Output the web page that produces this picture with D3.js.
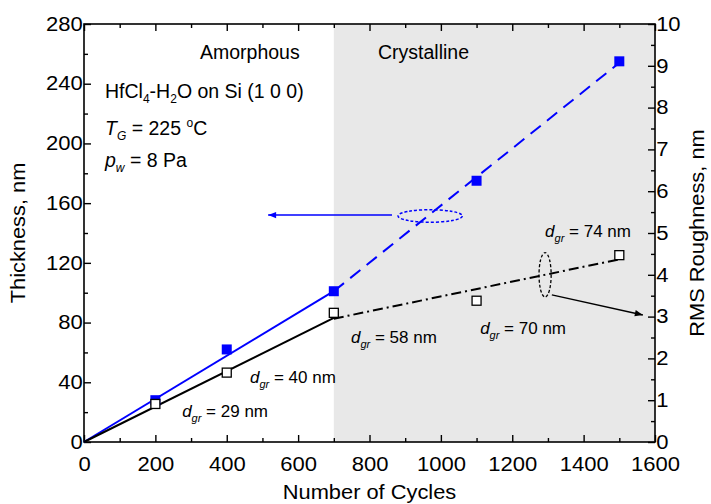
<!DOCTYPE html>
<html>
<head>
<meta charset="utf-8">
<script src="https://cdn.jsdelivr.net/npm/d3@7/dist/d3.min.js"></script>
<style>
  body { margin: 0; background: #fff; }
  svg { font-family: 'Liberation Sans', Arial, sans-serif; }
</style>
</head>
<body>
<div id="chart"></div>
<script>
// data
const cycles = [200, 400, 700, 1100, 1500];
const thickness = [28, 62, 101, 175, 255];      // nm, left axis
const roughness = [0.91, 1.66, 3.09, 3.38, 4.47]; // nm, right axis

// fit lines (cycles, value)
const thickFitAmorphous = [[0, 0], [700, 101]];
const thickFitCrystal = [[700, 101], [1500, 254]];
const roughFitAmorphous = [[0, 0], [700, 2.97]];
const roughFitCrystal = [[700, 2.95], [1500, 4.37]];

const xTicks = [0, 200, 400, 600, 800, 1000, 1200, 1400, 1600];
const yTicksLeft = [0, 40, 80, 120, 160, 200, 240, 280];
const yTicksRight = [0, 1, 2, 3, 4, 5, 6, 7, 8, 9, 10];
const crystalStart = 700;

const width = 711, height = 504;
const margin = {top: 24, right: 56, bottom: 62, left: 84};

const svg = d3.select('#chart').append('svg')
  .attr('width', width)
  .attr('height', height);

const x = d3.scaleLinear().domain([0, 1600]).range([margin.left, width - margin.right]);
const yL = d3.scaleLinear().domain([0, 280]).range([height - margin.bottom, margin.top]);
const yR = d3.scaleLinear().domain([0, 10]).range([height - margin.bottom, margin.top]);

const blue = '#0000ff';

//arrow markers
const defs = svg.append('defs');
const addMarker = (id, color) => {
  defs.append('marker')
    .attr('id', id)
    .attr('viewBox', '0 0 10 10')
    .attr('refX', 10).attr('refY', 5)
    .attr('markerWidth', 14).attr('markerHeight', 8)
    .attr('markerUnits', 'userSpaceOnUse')
    .attr('orient', 'auto')
    .append('path')
    .attr('d', 'M0,1 L10,5 L0,9 Z')
    .style('fill', color);
}
addMarker('arrBlue', blue);
addMarker('arrBlack', '#000');

// crystalline shading
svg.append('rect')
  .attr('x', x(crystalStart))
  .attr('y', yL(280))
  .attr('width', x(1600) - x(crystalStart))
  .attr('height', yL(0) - yL(280))
  .style('fill', '#e8e8e8');

// axes
const styleAxis = (g, scaleX) => {
  g.select('.domain').remove();
  g.selectAll('line').style('stroke', '#000').style('stroke-width', 1.4);
  g.selectAll('text')
    .style('font-size', '19.5px')
    .style('fill', '#000')
    .attr('transform', `scale(${scaleX},1)`);
}

const bottomAxis = svg.append('g').attr('transform', `translate(0,${yL(0)})`)
  .call(d3.axisBottom(x).tickValues(xTicks).tickSize(-7).tickPadding(15).tickFormat(d3.format('d')));
styleAxis(bottomAxis, 1.13);
svg.append('g').attr('transform', `translate(0,${yL(0)})`)
  .call(d3.axisBottom(x).tickValues(d3.range(100, 1600, 200)).tickSize(-4).tickFormat(''))
  .call(g => styleAxis(g, 1));

const topAxis = svg.append('g').attr('transform', `translate(0,${yL(280)})`)
  .call(d3.axisTop(x).tickValues(xTicks).tickSize(-7).tickFormat(''));
styleAxis(topAxis, 1);
svg.append('g').attr('transform', `translate(0,${yL(280)})`)
  .call(d3.axisTop(x).tickValues(d3.range(100, 1600, 200)).tickSize(-4).tickFormat(''))
  .call(g => styleAxis(g, 1));

const leftAxis = svg.append('g').attr('transform', `translate(${x(0)},0)`)
  .call(d3.axisLeft(yL).tickValues(yTicksLeft).tickSize(-7).tickPadding(1));
styleAxis(leftAxis, 1.13);
svg.append('g').attr('transform', `translate(${x(0)},0)`)
  .call(d3.axisLeft(yL).tickValues(d3.range(20, 280, 40)).tickSize(-4).tickFormat(''))
  .call(g => styleAxis(g, 1));

const rightAxis = svg.append('g').attr('transform', `translate(${x(1600)},0)`)
  .call(d3.axisRight(yR).tickValues(yTicksRight).tickSize(-7).tickPadding(1));
styleAxis(rightAxis, 1.13);
svg.append('g').attr('transform', `translate(${x(1600)},0)`)
  .call(d3.axisRight(yR).tickValues(d3.range(0.5, 10, 1)).tickSize(-4).tickFormat(''))
  .call(g => styleAxis(g, 1));

// frame
svg.append('rect')
  .attr('x', x(0)).attr('y', yL(280))
  .attr('width', x(1600) - x(0)).attr('height', yL(0) - yL(280))
  .style('fill', 'none').style('stroke', '#000').style('stroke-width', 1.6);

// axis titles
svg.append('text')
  .attr('transform', `translate(${(x(0) + x(1600)) / 2},499) scale(1.12,1)`)
  .attr('text-anchor', 'middle')
  .style('font-size', '19.5px')
  .text('Number of Cycles');

svg.append('text')
  .attr('transform', `translate(25,${(yL(0) + yL(280)) / 2}) rotate(-90) scale(1.12,1)`)
  .attr('text-anchor', 'middle')
  .style('font-size', '19.5px')
  .text('Thickness, nm');

svg.append('text')
  .attr('transform', `translate(704,${(yL(0) + yL(280)) / 2}) rotate(-90) scale(1.12,1)`)
  .attr('text-anchor', 'middle')
  .style('font-size', '19.5px')
  .text('RMS Roughness, nm');

// fit lines
const lineL = d3.line().x(d => x(d[0])).y(d => yL(d[1]));
const lineR = d3.line().x(d => x(d[0])).y(d => yR(d[1]));

svg.append('path').attr('d', lineL(thickFitAmorphous))
  .style('fill', 'none').style('stroke', blue).style('stroke-width', 2);
svg.append('path').attr('d', lineL(thickFitCrystal))
  .style('fill', 'none').style('stroke', blue).style('stroke-width', 2)
  .style('stroke-dasharray', '13,8');
svg.append('path').attr('d', lineR(roughFitAmorphous))
  .style('fill', 'none').style('stroke', '#000').style('stroke-width', 2);
svg.append('path').attr('d', lineR(roughFitCrystal))
  .style('fill', 'none').style('stroke', '#000').style('stroke-width', 2)
  .style('stroke-dasharray', '10,4,2,4');

// markers
const sq = 10;
svg.append('g').selectAll('rect')
  .data(cycles.map((c, i) => ({c, v: thickness[i]})))
  .join('rect')
  .attr('x', d => x(d.c) - sq / 2)
  .attr('y', d => yL(d.v) - sq / 2)
  .attr('width', sq).attr('height', sq)
  .style('fill', blue);

svg.append('g').selectAll('rect')
  .data(cycles.map((c, i) => ({c, v: roughness[i]})))
  .join('rect')
  .attr('x', d => x(d.c) - sq / 2 + 0.5)
  .attr('y', d => yR(d.v) - sq / 2 + 0.5)
  .attr('width', sq - 1).attr('height', sq - 1)
  .style('fill', '#fff')
  .style('stroke', '#000')
  .style('stroke-width', 1.3);

// ellipses and arrows pointing at axes
svg.append('ellipse')
  .attr('cx', x(970)).attr('cy', yL(151.4))
  .attr('rx', x(90) - x(0)).attr('ry', yL(0) - yL(4.2))
  .style('fill', 'none').style('stroke', blue).style('stroke-width', 1.5)
  .style('stroke-dasharray', '3,2');
svg.append('line')
  .attr('x1', x(863)).attr('y1', yL(152))
  .attr('x2', x(516)).attr('y2', yL(152))
  .attr('marker-end', 'url(#arrBlue)')
  .style('stroke', blue).style('stroke-width', 1.5);

svg.append('ellipse')
  .attr('cx', x(1292)).attr('cy', yR(4.0))
  .attr('rx', x(17) - x(0)).attr('ry', yR(0) - yR(0.53))
  .style('fill', 'none').style('stroke', '#000').style('stroke-width', 1.3)
  .style('stroke-dasharray', '3,2');
svg.append('line')
  .attr('x1', x(1311)).attr('y1', yR(3.52))
  .attr('x2', x(1566)).attr('y2', yR(3.04))
  .attr('marker-end', 'url(#arrBlack)')
  .style('stroke', '#000').style('stroke-width', 1.5);

// region labels
svg.append('text')
  .attr('x', 200).attr('y', 59)
  .style('font-size', '19.5px')
  .text('Amorphous');
svg.append('text')
  .attr('x', 378).attr('y', 59)
  .style('font-size', '19.5px')
  .text('Crystalline');

// conditions
const cond = svg.append('g').style('font-size', '19.5px');
const l1 = cond.append('text').attr('x', 105).attr('y', 98);
l1.append('tspan').text('HfCl');
l1.append('tspan').text('4').style('font-size', '12px').attr('dy', 5);
l1.append('tspan').text('-H').attr('dy', -5);
l1.append('tspan').text('2').style('font-size', '12px').attr('dy', 5);
l1.append('tspan').text('O on Si (1 0 0)').attr('dy', -5);

const l2 = cond.append('text').attr('x', 105).attr('y', 135);
l2.append('tspan').text('T').style('font-style', 'italic');
l2.append('tspan').text('G').style('font-style', 'italic').style('font-size', '12px').attr('dy', 5);
l2.append('tspan').text(' = 225 ').attr('dy', -5);
l2.append('tspan').text('o').style('font-size', '12px').attr('dy', -8);
l2.append('tspan').text('C').attr('dy', 8);

const l3 = cond.append('text').attr('x', 105).attr('y', 167);
l3.append('tspan').text('p').style('font-style', 'italic');
l3.append('tspan').text('w').style('font-style', 'italic').style('font-size', '12px').attr('dy', 5);
l3.append('tspan').text(' = 8 Pa').attr('dy', -5);

// grain size labels
const grainLabels = [
  {c: 275, r: 0.6, t: '29'},
  {c: 465, r: 1.41, t: '40'},
  {c: 748, r: 2.37, t: '58'},
  {c: 1110, r: 2.58, t: '70'},
  {c: 1292, r: 4.9, t: '74'}
];
grainLabels.forEach(d => {
  const t = svg.append('text')
    .attr('x', x(d.c)).attr('y', yR(d.r))
    .style('font-size', '17px');
  t.append('tspan').text('d').style('font-style', 'italic');
  t.append('tspan').text('gr').style('font-style', 'italic').style('font-size', '11px').attr('dy', 5);
  t.append('tspan').text(` = ${d.t} nm`).attr('dy', -5);
});
</script>
</body>
</html>
